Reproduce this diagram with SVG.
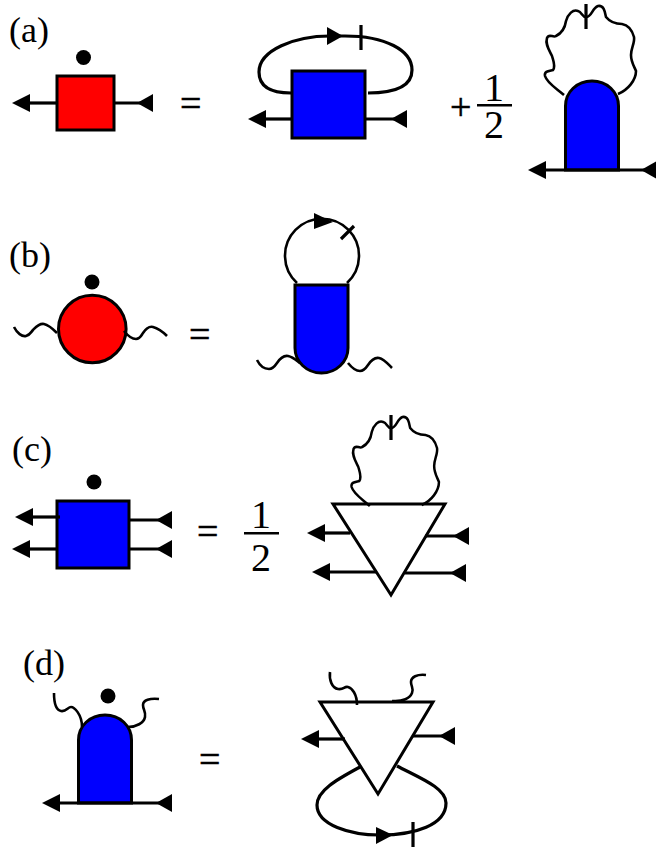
<svg xmlns="http://www.w3.org/2000/svg" xmlns:xlink="http://www.w3.org/1999/xlink" width="656" height="849" viewBox="0 0 656 849">
<style>
text{font-family:"Liberation Serif","Times New Roman",serif;fill:#000}
.lb{font-size:36px}.eq{font-size:38px;stroke:#000;stroke-width:.5}.fr{font-size:40px;text-anchor:middle}
.s{stroke:#000;stroke-width:3}
.blue{fill:#00f}.red{fill:#f00}.wh{fill:#fff}
.w,.l{fill:none;stroke:#000;stroke-linecap:butt}
.w{stroke-width:2.6}.l{stroke-width:3.2}
.o{marker-end:url(#out)}.i{marker-start:url(#in)}
</style>
<defs>
<marker id="out" markerUnits="userSpaceOnUse" markerWidth="18" markerHeight="18" refX="0" refY="9" orient="auto" viewBox="0 0 18 18"><polygon points="0,0 18,9 0,18"/></marker>
<marker id="in" markerUnits="userSpaceOnUse" markerWidth="16" markerHeight="18" refX="0" refY="9" orient="auto" viewBox="0 0 16 18"><polygon points="0,0 16,9 0,18"/></marker>
<path id="cloud" d="M564 95C556 88 547 83 545 76C544 71 549 71 553 70C556 66 553 60 552 56C549 50 545 44 547 38C549 33 553 38 556 36C562 33 565 28 566 21C568 14 573 9 578 11C582 12 582 17 586 17C592 17 592 8 598 6C604 5 605 12 606 17C610 22 616 24 622 24C628 25 632 30 634 37C635 43 631 48 631 55C631 62 634 66 636 71C636 80 628 90 618 94"/>
</defs>
<g id="label-a"><text class="lb" x="9" y="42">(a)</text></g>
<g id="a-red-square"><rect class="red s" x="57" y="76" width="57" height="54"/><circle cx="83.500" cy="57.500" r="7.500"/></g>
<g id="a-eq"><text class="eq" x="180" y="116">=</text></g>
<g id="a-blue-square"><rect class="blue s" x="292" y="71" width="73" height="67"/></g>
<g id="a-half"><text class="eq" x="450" y="120">+</text><text class="fr" x="494" y="101">1</text><rect x="477" y="104" width="35" height="2.500"/><text class="fr" x="494" y="138">2</text></g>
<g id="a-dome"><path class="blue s" d="M565.500 170V106C565.500 92 577 81 592 81S618.500 92 618.500 106V170Z"/></g>
<g id="label-b"><text class="lb" x="9" y="267">(b)</text></g>
<g id="b-red-circle"><circle class="red s" cx="92.300" cy="329" r="33.800"/><circle cx="92" cy="282" r="7.500"/></g>
<g id="b-eq"><text class="eq" x="189" y="347">=</text></g>
<g id="b-capsule"><path class="blue s" d="M295 285H348V348C348 362 336 373 321.500 373S295 362 295 348Z"/></g>
<g id="label-c"><text class="lb" x="12" y="461">(c)</text></g>
<g id="c-blue-square"><rect class="blue s" x="57" y="501" width="72" height="67"/><circle cx="94" cy="482" r="7.500"/></g>
<g id="c-eq"><text class="eq" x="197" y="544">=</text></g>
<g id="c-half"><text class="fr" x="261" y="528">1</text><rect x="244" y="532" width="35" height="2.500"/><text class="fr" x="261" y="571">2</text></g>
<g id="c-triangle"><path class="wh s" d="M333 504H445L391 595Z"/></g>
<g id="label-d"><text class="lb" x="23" y="675">(d)</text></g>
<g id="d-dome"><path class="blue s" d="M78.500 803V740C78.500 726 90 715 105 715S131.500 726 131.500 740V803Z"/><circle cx="108" cy="696" r="7.500"/></g>
<g id="d-eq"><text class="eq" x="199" y="772">=</text></g>
<g id="d-triangle"><path class="wh s" d="M320 702H433L378 794Z"/></g>
<g id="connectors">
<line class="l o" x1="57" y1="103" x2="30" y2="103"/><line class="l i" x1="153" y1="103" x2="114" y2="103"/>
<line class="l o" x1="292" y1="119" x2="266" y2="119"/><line class="l i" x1="407" y1="119" x2="365" y2="119"/>
<path class="l" d="M291 93C272 93 259 88 259 72C259 50 295 36 330 36H345C385 36 412 50 412 70C412 86 395 93 368 93"/>
<polygon points="327,27 343,36 327,45"/><line class="l" x1="361" y1="25" x2="361" y2="50"/>
<use href="#cloud" xlink:href="#cloud" class="w"/><line class="l" x1="586" y1="4" x2="586" y2="29"/>
<line class="l o" x1="600" y1="170" x2="546" y2="170"/><line class="l i" x1="657" y1="170" x2="600" y2="170"/>
<path class="w" d="M14 327C17 333 22 337 26 336S31 332 33 330S39 323 44 324S54 330 57 333"/>
<path class="w" d="M124 331C128 336 132 339 136 339S141 336 143 333S149 326 153 327S163 332 167 336"/>
<path class="w" d="M297 283A37 37 0 1 1 347 283"/>
<polygon points="314,213 333,222 314,229"/><line class="l" x1="341" y1="239" x2="354" y2="226"/>
<path class="w" d="M257 360C260 366 265 369 269 369S275 366 277 363S283 355 288 356S296 360 300 363"/>
<path class="w" d="M348 363C352 368 356 371 360 371S366 368 368 365S374 357 379 358S388 364 392 368"/>
<line class="l o" x1="60" y1="517" x2="33" y2="517"/><line class="l o" x1="57" y1="549" x2="30" y2="549"/>
<line class="l i" x1="172" y1="520" x2="129" y2="520"/><line class="l i" x1="172" y1="549" x2="129" y2="549"/>
<use href="#cloud" xlink:href="#cloud" class="w" transform="translate(-171.600 411) scale(.96 1)"/><line class="l" x1="391" y1="415" x2="391" y2="440"/>
<line class="l o" x1="350" y1="533" x2="325" y2="533"/><line class="l o" x1="377" y1="572" x2="330" y2="572"/>
<line class="l i" x1="469" y1="536" x2="425" y2="536"/><line class="l i" x1="466" y1="573" x2="405" y2="573"/>
<path class="w" d="M54 693C54 702 56 710 61 711S68 707 71 707S82 714 82 727"/>
<path class="w" d="M159 699C150 698 143 700 143 705S146 711 145 717S136 727 128 727"/>
<line class="l o" x1="105" y1="803" x2="60" y2="803"/><line class="l i" x1="172" y1="803" x2="105" y2="803"/>
<path class="w" d="M330 672C329 680 332 688 338 689S344 686 348 687S357 694 357 705"/>
<path class="w" d="M426 675C417 674 411 677 411 682S414 688 412 693S403 702 392 701"/>
<line class="l o" x1="345" y1="739" x2="319" y2="739"/><line class="l i" x1="455" y1="736" x2="412" y2="736"/>
<path class="l" d="M360 767C338 779 317 790 317 805C317 825 350 835 380 835C415 835 446 825 446 803C446 788 420 778 397 766"/>
<polygon points="376,827 393,835 376,844"/><line class="l" x1="413" y1="822" x2="413" y2="847"/>
</g>
</svg>
